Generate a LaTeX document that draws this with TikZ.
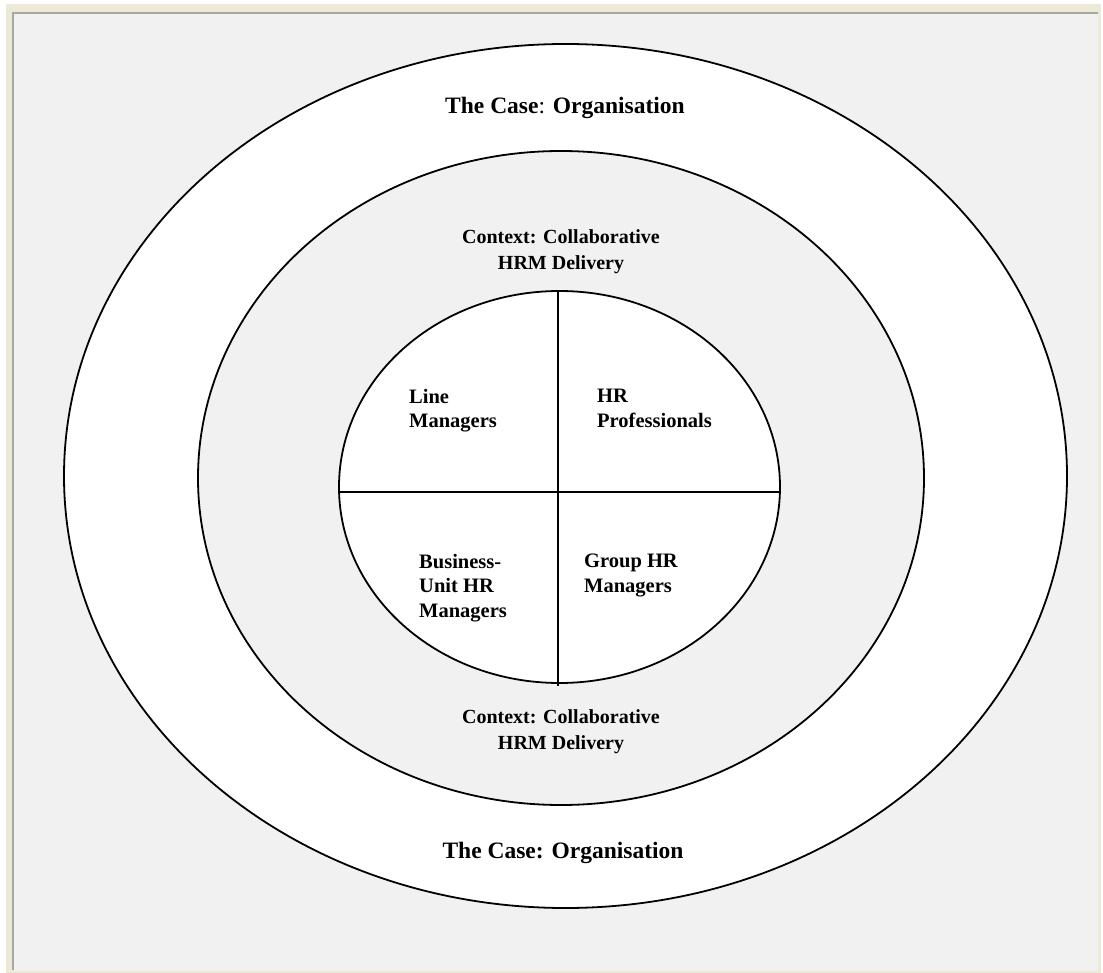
\documentclass[tikz,border=0pt]{standalone}
\usepackage{fontspec}
\setmainfont{Liberation Serif}
\begin{document}
\begin{tikzpicture}[x=1pt,y=-1pt,
  ring/.style={draw=black,line width=1.8pt},
  divider/.style={draw=black,line width=1.5pt},
  title/.style={font=\bfseries\fontsize{23.5}{28}\selectfont,align=center,inner sep=0pt},
  context/.style={font=\bfseries\fontsize{20}{26}\selectfont,align=center,inner sep=0pt},
  group/.style={font=\bfseries\fontsize{20.5}{24.5}\selectfont,align=left,inner sep=0pt,anchor=north west}]
\definecolor{panelgrey}{HTML}{F1F1F1}
\definecolor{rimcream}{HTML}{ECE9D8}
\definecolor{framegrey}{HTML}{A8A79B}
% page and sunken panel
\useasboundingbox (0,0) rectangle (1103,973);
\fill[white] (0,0) rectangle (1103,973);
\fill[rimcream] (6,4) rectangle (1101,973);
\fill[panelgrey] (14,14) rectangle (1098,971);
\draw[draw=framegrey,line width=2pt] (13,970) -- (13,13) -- (1098,13);
% nested ellipses
\path[ring,fill=white] (565.5,476) ellipse [x radius=501.5,y radius=432];
\path[ring,fill=panelgrey] (561,478) ellipse [x radius=363,y radius=327];
\path[ring,fill=white] (559.5,487) ellipse [x radius=220.5,y radius=196];
% quadrant lines
\coordinate (vtop) at (558,291);
\coordinate (vbot) at (558,686);
\coordinate (hleft) at (339,492);
\coordinate (hright) at (780,492);
\draw[divider] (vtop) -- (vbot);
\draw[divider] (hleft) -- (hright);
% labels
\node[title] (caseTop) at (565,108) {The Case\textmd{:} Organisation};
\node[title] (caseBot) at (563,853) {The Case: Organisation};
\node[context] (ctxTop) at (561,252) {Context: Collaborative\\HRM Delivery};
\node[context] (ctxBot) at (561,732) {Context: Collaborative\\HRM Delivery};
\node[group] (lm) at (409,389) {Line\\Managers};
\node[group] (hrp) at (597,389) {HR\\Professionals};
\node[group] (buhr) at (419,554) {Business-\\Unit HR\\Managers};
\node[group] (ghr) at (584,554) {Group HR\\Managers};
\end{tikzpicture}
\end{document}
